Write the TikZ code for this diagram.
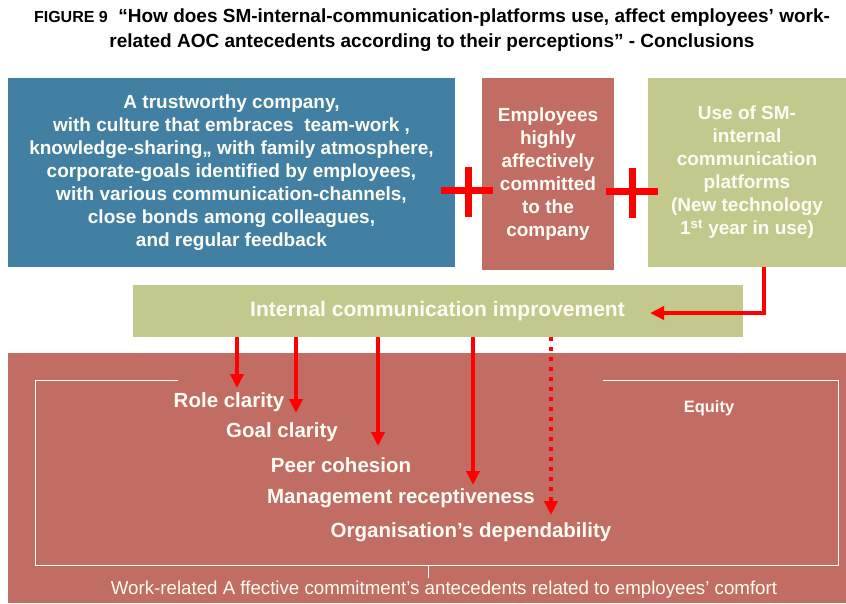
\documentclass[tikz,border=0pt]{standalone}
\usepackage{fontspec}
\setmainfont{Liberation Sans}
\usetikzlibrary{arrows.meta}

\definecolor{tealblue}{RGB}{65,128,163}
\definecolor{rosered}{RGB}{193,109,99}
\definecolor{olivegreen}{RGB}{195,201,140}
\definecolor{boxtext}{RGB}{252,252,244}

\begin{document}
\begin{tikzpicture}[x=1pt,y=-1pt,
    box/.style={inner sep=0pt, align=center, text=boxtext,
        font=\bfseries\fontsize{19}{23}\selectfont},
    item/.style={inner sep=0pt, text=boxtext, font=\bfseries\fontsize{20.5}{24}\selectfont},
    plus/.style={red, line width=7pt},
    arr/.style={red, line width=3.5pt, -{Triangle[length=14pt,width=13pt]}}]

\useasboundingbox (0,0) rectangle (846,603);

% Title
\node[font=\bfseries\fontsize{19}{25}\selectfont, align=center] (title) at (432,30)
    {{\fontsize{16}{25}\selectfont FIGURE 9}\ \ “How does SM-internal-communication-platforms use, affect employees’ work-\\
     related AOC antecedents according to their perceptions” - Conclusions};

% Top row
\node[box, fill=tealblue, minimum width=447pt, minimum height=189pt] (company) at (231.5,172.5)
    {A trustworthy company,\\
     with culture that embraces\ \ team-work ,\\
     knowledge-sharing,, with family atmosphere,\\
     corporate-goals identified by employees,\\
     with various communication-channels,\\
     close bonds among colleagues,\\
     and regular feedback};
\node[box, fill=rosered, minimum width=132pt, minimum height=192pt] (employees) at (548,174)
    {Employees\\ highly\\ affectively\\ committed\\ to the\\ company};
\node[box, fill=olivegreen, minimum width=198pt, minimum height=189pt] (platforms) at (747,172.5)
    {Use of SM-\\ internal\\ communication\\ platforms\\ (New technology\\ 1\textsuperscript{st} year in use)};

% Plus signs
\draw[plus] (441,190) -- (493,190);
\draw[plus] (468,167) -- (468,217);
\draw[plus] (606,191) -- (658,191);
\draw[plus] (632,168) -- (632,218);

% Middle bar
\node[box, fill=olivegreen, minimum width=610pt, minimum height=52pt,
      font=\bfseries\fontsize{21}{24}\selectfont] (improvement) at (437.5,311)
    {Internal communication improvement};

\coordinate (turn) at (764,313);
\coordinate (entry) at (650,313);
\draw[arr, line width=4pt] (platforms.south -| turn) -- (turn) -- (entry);

% Antecedents panel
\fill[rosered] (8,353) rectangle (846,603);
\draw[white, line width=1pt] (178,380) -- (35,380) -- (35,565) -- (838,565) -- (838,380) -- (603,380);
\draw[white, line width=1pt] (428,565) -- (428,578);

\node[item] (role) at (229,402) {Role clarity};
\node[item] (goal) at (282,432) {Goal clarity};
\node[item] (peer) at (341,465) {Peer cohesion};
\node[item] (management) at (401,498) {Management receptiveness};
\node[item] (dependability) at (471,532) {Organisation’s dependability};
\node[text=boxtext, font=\bfseries\fontsize{16.5}{18}\selectfont] (equity) at (709,408) {Equity};
\node[text=boxtext, font=\fontsize{18.7}{20}\selectfont] (comfort) at (444,590)
    {Work-related A ffective commitment’s antecedents related to employees’ comfort};

% Arrows into the antecedents
\coordinate (e1) at (237,388);
\coordinate (e2) at (296,413);
\coordinate (e3) at (378,446);
\coordinate (e4) at (473,485);
\coordinate (e5) at (551,515);
\draw[arr] (improvement.south -| e1) -- (e1);
\draw[arr] (improvement.south -| e2) -- (e2);
\draw[arr] (improvement.south -| e3) -- (e3);
\draw[arr] (improvement.south -| e4) -- (e4);
\draw[arr, dash pattern=on 4pt off 6pt] (improvement.south -| e5) -- (e5);

\end{tikzpicture}
\end{document}
